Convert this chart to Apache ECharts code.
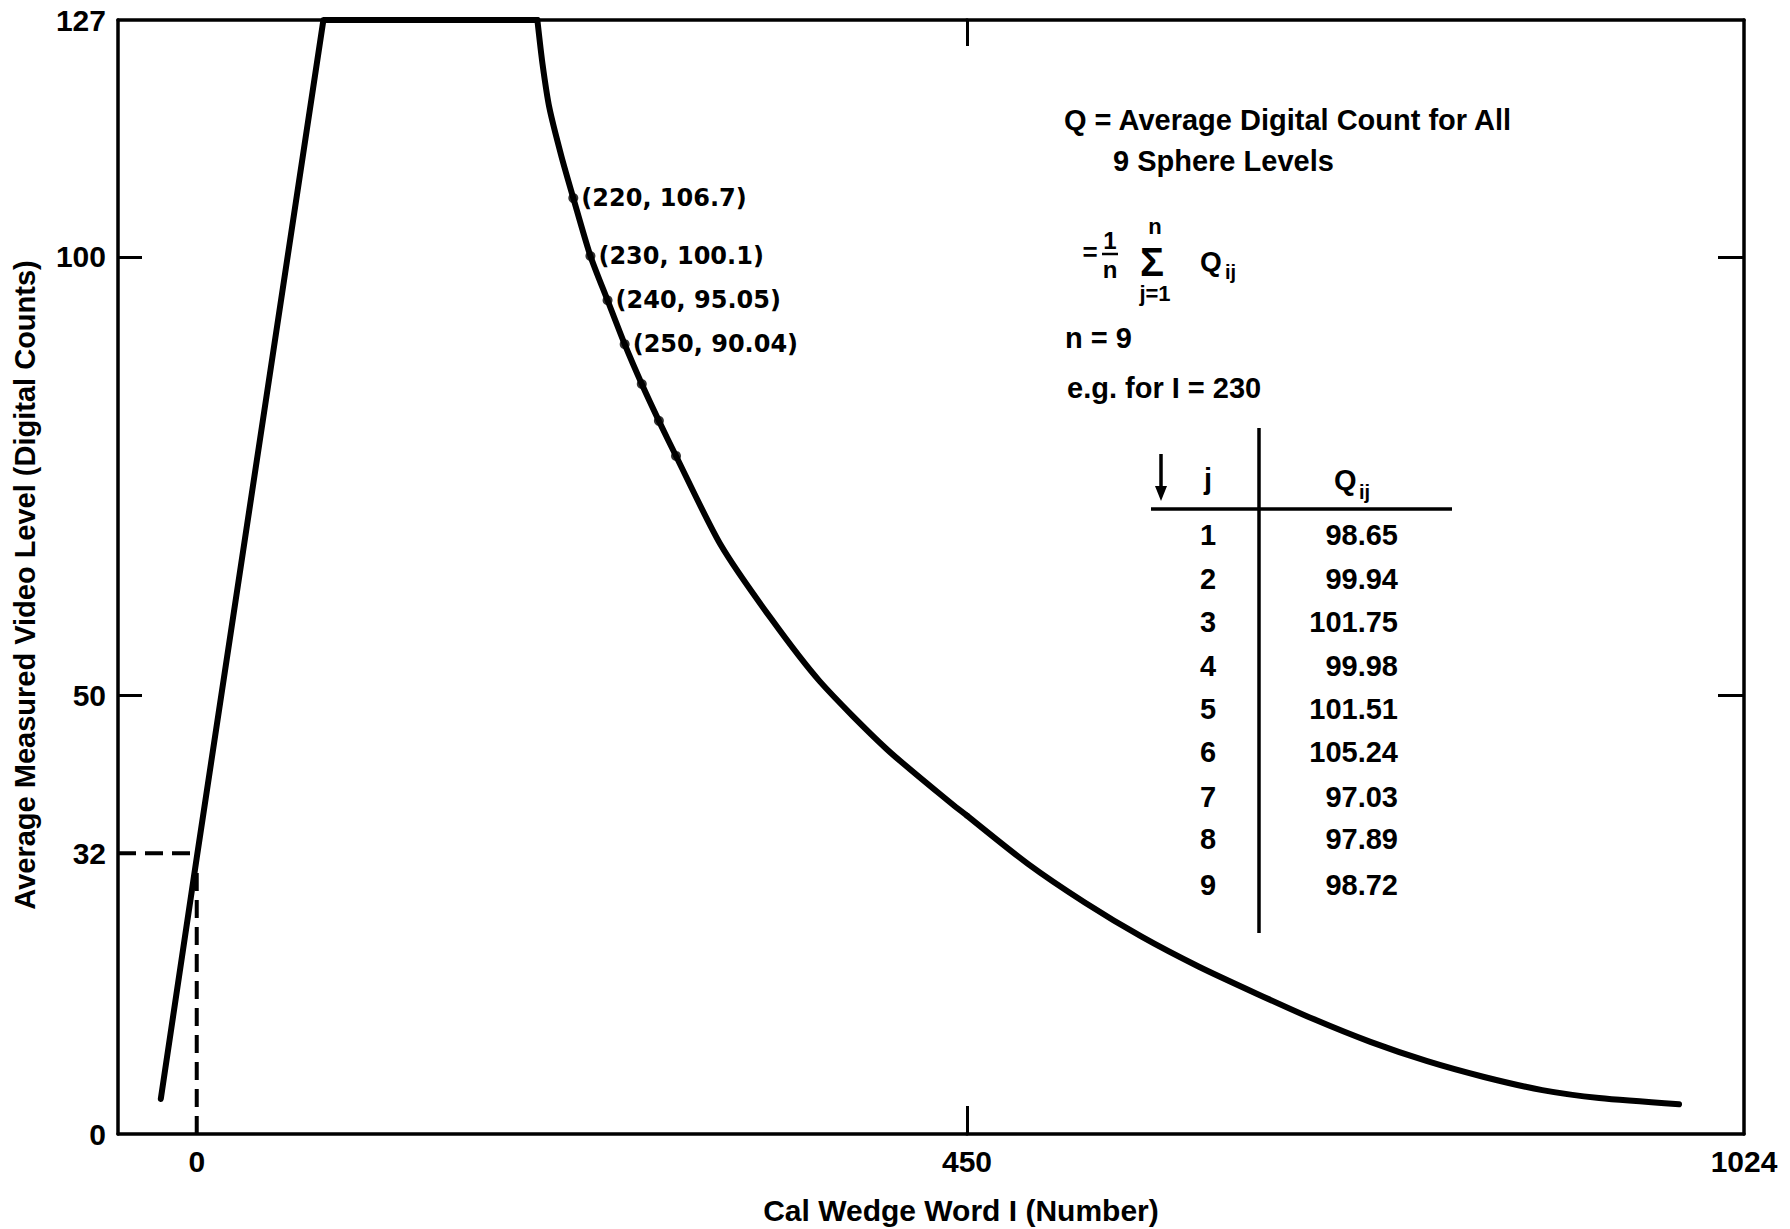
<!DOCTYPE html>
<html>
<head>
<meta charset="utf-8">
<script src="https://cdn.jsdelivr.net/npm/echarts@6/dist/echarts.min.js"></script>
<style>
  html, body { margin: 0; padding: 0; background: #fff; }
  #chart { width: 1790px; height: 1229px; }
</style>
</head>
<body>
<div id="chart"></div>
<script>
// left ramp of the curve, then saturated at 127 along the top
const rampPoints = [[-21, 4], [0, 31.5], [74, 127], [199, 127]];
// falling branch, linear part of the I axis (up to 450)
const decayNear = [
  [199, 127], [202, 122], [206, 117], [213, 111.5], [220, 106.7], [230, 100.1],
  [240, 95.05], [250, 90.04], [260, 85.5], [270, 81.3], [280, 77.3], [306, 67.2],
  [335, 58.9], [364, 51.6], [403, 43.9], [442, 37.5], [450, 36.3]
];
// falling branch, compressed part of the I axis (450 .. 1024)
const decayFar = [
  [450, 36.3], [495, 30.8], [537, 26.4], [579, 22.5], [621, 19.1], [664, 16.0],
  [706, 13.1], [748, 10.5], [790, 8.3], [832, 6.5], [875, 5.0], [917, 4.1], [976, 3.4]
];
const labeledPoints = [[220, 106.7], [230, 100.1], [240, 95.05], [250, 90.04]];
const extraDots = [[260, 85.5], [270, 81.3], [280, 77.3]];
const guideH = [[-46, 32], [0, 32]];
const guideV = [[0, 0], [0, 30]];

const yTickLabels = [0, 32, 50, 100, 127];
const yTicks = [50, 100];
const xLabelsNear = [0];
const xLabelsFar = [450, 1024];

const tableJ = ['1', '2', '3', '4', '5', '6', '7', '8', '9'];
const tableQ = ['98.65', '99.94', '101.75', '99.98', '101.51', '105.24', '97.03', '97.89', '98.72'];

const FONT = 'Liberation Sans';
const frame = { show: true, onZero: false, lineStyle: { color: '#000', width: 3.5 } };
const noSplit = { show: false };
const plain = function (v) { return String(v); };

const chart = echarts.init(document.getElementById('chart'), null, { renderer: 'svg' });

function txt(text, x, y, size, align) {
  return {
    type: 'text', x: x, y: y,
    style: {
      text: text, fill: '#000', font: 'bold ' + size + 'px "' + FONT + '"',
      textAlign: align || 'left', textVerticalAlign: 'middle'
    }
  };
}

const yTitle = txt('Average Measured Video Level (Digital Counts)', 25, 585, 29, 'center');
yTitle.rotation = Math.PI / 2;

const graphics = [
  // axis titles
  txt('Cal Wedge Word I (Number)', 961, 1210, 30, 'center'),
  yTitle,
  // annotation block
  txt('Q = Average Digital Count for All', 1064, 120, 29),
  txt('9 Sphere Levels', 1113, 161, 29),
  txt('=', 1090, 252, 26, 'center'),
  txt('1', 1110, 240, 24, 'center'),
  { type: 'line', shape: { x1: 1102, y1: 254, x2: 1118, y2: 254 }, style: { stroke: '#000', lineWidth: 2.5 } },
  txt('n', 1110, 269, 24, 'center'),
  txt('\u03A3', 1152, 262, 40, 'center'),
  txt('n', 1155, 226, 22, 'center'),
  txt('j=1', 1155, 293, 22, 'center'),
  txt('Q', 1200, 261, 28),
  txt('ij', 1225, 272, 20),
  txt('n = 9', 1065, 338, 29),
  txt('e.g. for I = 230', 1067, 388, 29),
  // table rules and arrow
  { type: 'line', shape: { x1: 1259, y1: 428, x2: 1259, y2: 933 }, style: { stroke: '#000', lineWidth: 3.5 } },
  { type: 'line', shape: { x1: 1151, y1: 509, x2: 1452, y2: 509 }, style: { stroke: '#000', lineWidth: 3.5 } },
  { type: 'line', shape: { x1: 1161, y1: 454, x2: 1161, y2: 490 }, style: { stroke: '#000', lineWidth: 3.5 } },
  { type: 'polygon', shape: { points: [[1155, 486], [1167, 486], [1161, 501]] }, style: { fill: '#000' } },
  txt('j', 1208, 479, 29, 'center'),
  txt('Q', 1334, 480, 29),
  txt('ij', 1359, 492, 20)
];

const rowY = [535, 579, 622, 666, 709, 752, 797, 839, 885];
tableJ.forEach(function (j, k) {
  graphics.push(txt(j, 1208, rowY[k], 29, 'center'));
  graphics.push(txt(tableQ[k], 1398, rowY[k], 29, 'right'));
});

const curveStyle = { color: '#000', width: 6, cap: 'round', join: 'round' };
const dashStyle = { color: '#000', width: 4, type: [18, 9] };
const tickStyle = { color: '#000', width: 3 };
const labelStyle = { color: '#000', fontSize: 30, fontWeight: 'bold', margin: 12, formatter: plain };

const option = {
  backgroundColor: '#fff',
  animation: false,
  textStyle: { fontFamily: FONT },
  grid: [
    { left: 118, top: 20, width: 849, height: 1114 },
    { left: 967, top: 20, width: 777, height: 1114 }
  ],
  xAxis: [
    {
      type: 'value', gridIndex: 0, position: 'bottom', min: -46, max: 450,
      axisLine: frame, splitLine: noSplit, axisTick: { show: false },
      axisLabel: Object.assign({ customValues: xLabelsNear }, labelStyle)
    },
    {
      type: 'value', gridIndex: 0, position: 'top', min: -46, max: 450,
      axisLine: frame, splitLine: noSplit, axisTick: { show: false }, axisLabel: { show: false }
    },
    {
      type: 'value', gridIndex: 1, position: 'bottom', min: 450, max: 1024,
      axisLine: frame, splitLine: noSplit,
      axisTick: { show: true, inside: true, length: 28, customValues: [450], lineStyle: tickStyle },
      axisLabel: Object.assign({ customValues: xLabelsFar, showMinLabel: true, showMaxLabel: true }, labelStyle)
    },
    {
      type: 'value', gridIndex: 1, position: 'top', min: 450, max: 1024,
      axisLine: frame, splitLine: noSplit,
      axisTick: { show: true, inside: true, length: 26, customValues: [450], lineStyle: tickStyle },
      axisLabel: { show: false }
    }
  ],
  yAxis: [
    {
      type: 'value', gridIndex: 0, position: 'left', min: 0, max: 127,
      axisLine: frame, splitLine: noSplit,
      axisTick: { show: true, inside: true, length: 24, customValues: yTicks, lineStyle: tickStyle },
      axisLabel: Object.assign({ customValues: yTickLabels, showMinLabel: true, showMaxLabel: true }, labelStyle)
    },
    {
      type: 'value', gridIndex: 1, position: 'right', min: 0, max: 127,
      axisLine: frame, splitLine: noSplit,
      axisTick: { show: true, inside: true, length: 26, customValues: yTicks, lineStyle: tickStyle },
      axisLabel: { show: false }
    }
  ],
  series: [
    { type: 'line', xAxisIndex: 0, yAxisIndex: 0, data: rampPoints, symbol: 'none', clip: false, lineStyle: curveStyle },
    { type: 'line', xAxisIndex: 0, yAxisIndex: 0, data: decayNear, symbol: 'none', smooth: 0.25, clip: false, lineStyle: curveStyle },
    { type: 'line', xAxisIndex: 2, yAxisIndex: 1, data: decayFar, symbol: 'none', smooth: 0.25, lineStyle: curveStyle },
    { type: 'line', xAxisIndex: 0, yAxisIndex: 0, data: guideH, symbol: 'none', lineStyle: dashStyle },
    { type: 'line', xAxisIndex: 0, yAxisIndex: 0, data: guideV, symbol: 'none', lineStyle: dashStyle },
    {
      type: 'scatter', xAxisIndex: 0, yAxisIndex: 0, data: labeledPoints, symbolSize: 10,
      itemStyle: { color: '#000' },
      label: {
        show: true, position: 'right', distance: 3, color: '#000', opacity: 1,
        fontFamily: 'DejaVu Sans', fontWeight: 'bold', fontSize: 24,
        formatter: function (p) { return '(' + p.value[0] + ', ' + p.value[1] + ')'; }
      }
    },
    { type: 'scatter', xAxisIndex: 0, yAxisIndex: 0, data: extraDots, symbolSize: 10, itemStyle: { color: '#000' } }
  ],
  graphic: graphics
};

chart.setOption(option);
</script>
</body>
</html>
